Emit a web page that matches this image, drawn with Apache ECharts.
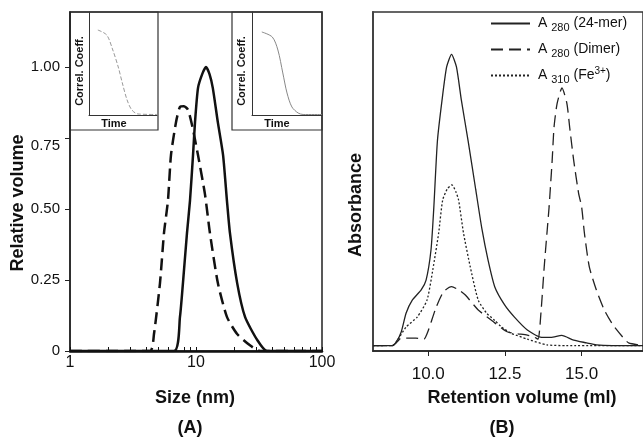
<!DOCTYPE html>
<html>
<head>
<meta charset="utf-8">
<script src="https://cdn.jsdelivr.net/npm/echarts@6/dist/echarts.min.js"></script>
<style>
  html, body { margin: 0; padding: 0; background: #fff; }
  #main { width: 643px; height: 439px; }
</style>
</head>
<body>
<div id="main"></div>
<script>
// Panel A - DLS size distributions (relative volume vs size, log axis)
const sizeA24 = [1, 6.69, 7.46, 7.88, 8.48, 8.96, 9.47, 9.82, 10.37, 11.2, 12.0, 12.8, 13.6, 14.9, 16.4, 17.6, 18.6, 21.2, 24.5, 30.5, 36.6, 100];
const volA24 = [0, 0, 0.12, 0.24, 0.415, 0.53, 0.69, 0.806, 0.926, 0.975, 1.0, 0.975, 0.926, 0.806, 0.69, 0.53, 0.415, 0.24, 0.12, 0.04, 0, 0];
const sizeADimer = [1, 4.31, 4.64, 5.18, 5.57, 5.99, 6.33, 6.94, 7.46, 8.03, 8.64, 9.3, 10.37, 11.8, 12.9, 14.9, 17.6, 21.2, 26.8, 32.2, 100];
const volADimer = [0, 0, 0.06, 0.24, 0.415, 0.53, 0.69, 0.806, 0.86, 0.862, 0.85, 0.796, 0.69, 0.55, 0.415, 0.24, 0.12, 0.06, 0.02, 0, 0];
const yTicksA = [0, 0.25, 0.5, 0.75, 1.0];
const xTicksA = [1, 2, 3, 4, 5, 6, 7, 8, 9, 10, 20, 30, 40, 50, 60, 70, 80, 90, 100];
const xLabelsA = [1, 10, 100];

// Panel A insets - correlation coefficient vs time
const timeInsetL = [0.13, 0.26, 0.35, 0.43, 0.49, 0.56, 0.63, 0.72, 1.0];
const corrInsetL = [0.825, 0.777, 0.631, 0.466, 0.311, 0.146, 0.049, 0.01, 0.005];
const timeInsetR = [0.14, 0.29, 0.37, 0.44, 0.5, 0.57, 0.66, 0.73, 1.0];
const corrInsetR = [0.806, 0.757, 0.631, 0.408, 0.214, 0.078, 0.019, 0.005, 0.005];

// Panel B - size exclusion chromatograms
const retB24 = [8.2, 8.83, 8.96, 9.12, 9.28, 9.48, 9.77, 9.93, 10.09, 10.18, 10.3, 10.45, 10.6, 10.76, 10.92, 11.08, 11.3, 11.55, 11.75, 11.95, 12.17, 12.49, 12.81, 13.23, 13.65, 14.0, 14.35, 14.74, 15.16, 15.48, 16.0, 17.0];
const absB24 = [0.016, 0.016, 0.027, 0.056, 0.112, 0.15, 0.18, 0.209, 0.298, 0.42, 0.62, 0.74, 0.838, 0.875, 0.838, 0.74, 0.62, 0.475, 0.36, 0.268, 0.189, 0.136, 0.1, 0.062, 0.041, 0.04, 0.046, 0.032, 0.024, 0.018, 0.016, 0.016];
const retBDimer = [8.2, 8.83, 8.99, 9.12, 9.38, 9.6, 9.86, 10.0, 10.25, 10.5, 10.76, 11.0, 11.21, 11.63, 12.17, 12.59, 13.23, 13.45, 13.58, 13.68, 13.78, 13.87, 13.94, 13.97, 14.04, 14.1, 14.2, 14.36, 14.52, 14.61, 14.74, 14.9, 15.0, 15.09, 15.25, 15.48, 15.74, 16.02, 16.34, 16.53, 17.0];
const absBDimer = [0.016, 0.016, 0.027, 0.038, 0.038, 0.038, 0.035, 0.06, 0.127, 0.175, 0.19, 0.18, 0.165, 0.121, 0.083, 0.056, 0.047, 0.041, 0.035, 0.12, 0.248, 0.348, 0.425, 0.466, 0.563, 0.66, 0.73, 0.776, 0.73, 0.66, 0.563, 0.466, 0.425, 0.348, 0.248, 0.18, 0.121, 0.077, 0.041, 0.024, 0.016];
const retBFe = [8.2, 8.83, 9.0, 9.28, 9.64, 9.96, 10.15, 10.34, 10.47, 10.62, 10.77, 10.9, 10.99, 11.15, 11.37, 11.63, 11.9, 12.17, 12.4, 12.69, 13.23, 13.87, 14.5, 17.0];
const absBFe = [0.016, 0.016, 0.032, 0.071, 0.10, 0.15, 0.24, 0.348, 0.445, 0.478, 0.49, 0.47, 0.445, 0.348, 0.248, 0.15, 0.112, 0.09, 0.07, 0.053, 0.035, 0.018, 0.016, 0.016];
const xTicksB = [10, 12.5, 15];

const seriesNames = ['A280 (24-mer)', 'A280 (Dimer)', 'A310 (Fe3+)'];
const legendText = {
  'A280 (24-mer)': '{n|A }{sub|280}{n| (24-mer)}',
  'A280 (Dimer)': '{n|A }{sub|280}{n| (Dimer)}',
  'A310 (Fe3+)': '{n|A }{sub|310}{n| (Fe}{sup|3+}{n|)}',
};

const FONT = '"Liberation Sans", Arial, Helvetica, sans-serif';
const INK = '#111';

function zip(xs, ys) {
  return xs.map((x, i) => [x, ys[i]]);
}

function plainAxis(gridIndex) {
  return {
    gridIndex: gridIndex,
    type: 'value',
    min: 0,
    max: 1,
    axisLine: { show: true, lineStyle: { color: '#333', width: 1 } },
    axisTick: { show: false },
    axisLabel: { show: false },
    splitLine: { show: false },
  };
}

function label(text, x, y, size, rot, weight) {
  return {
    type: 'text',
    x: x,
    y: y,
    rotation: rot || 0,
    silent: true,
    style: {
      text: text,
      fill: INK,
      font: (weight || 'bold') + ' ' + size + 'px ' + FONT,
      textAlign: 'center',
      textVerticalAlign: 'middle',
      align: 'center',
      verticalAlign: 'middle',
    },
  };
}

const chart = echarts.init(document.getElementById('main'));

chart.setOption({
  animation: false,
  backgroundColor: '#fff',
  textStyle: { fontFamily: FONT },
  grid: [
    // main panel A
    { left: 70, top: 12, width: 252, height: 339, show: true, borderColor: '#222', borderWidth: 1.5, backgroundColor: 'transparent' },
    // inset left
    { left: 89, top: 12, width: 68, height: 103 },
    // inset right
    { left: 252, top: 12, width: 70, height: 103 },
    // panel B
    { left: 373, top: 12, width: 274, height: 339, show: true, borderColor: '#333', borderWidth: 1.5, backgroundColor: 'transparent' },
  ],
  xAxis: [
    {
      gridIndex: 0,
      type: 'log',
      logBase: 10,
      min: 1,
      max: 100,
      axisLine: { show: true, lineStyle: { color: INK, width: 2.5 } },
      axisTick: { show: true, inside: true, length: 4, customValues: xTicksA, lineStyle: { color: INK } },
      axisLabel: { customValues: xLabelsA, fontSize: 16, color: INK, margin: 4 },
      splitLine: { show: false },
    },
    plainAxis(1),
    plainAxis(2),
    {
      gridIndex: 3,
      type: 'value',
      min: 8.2,
      max: 17.0,
      axisLine: { show: true, lineStyle: { color: '#222', width: 1.5 } },
      axisTick: { show: true, length: 5, customValues: xTicksB, lineStyle: { color: '#222' } },
      axisLabel: {
        customValues: xTicksB,
        fontSize: 17,
        color: INK,
        margin: 15,
        formatter: (v) => v.toFixed(1),
      },
      splitLine: { show: false },
    },
  ],
  yAxis: [
    {
      gridIndex: 0,
      type: 'value',
      min: 0,
      max: 1.194,
      axisLine: { show: true, lineStyle: { color: '#222', width: 1.5 } },
      axisTick: { show: true, length: 5, customValues: yTicksA, lineStyle: { color: '#222' } },
      axisLabel: {
        customValues: yTicksA,
        fontSize: 15,
        color: INK,
        margin: 10,
        formatter: (v) => (v === 0 ? '0' : v === 0.75 ? '{low|0.75}' : v.toFixed(2)),
        rich: { low: { fontSize: 15, color: INK, padding: [16, 0, 0, 0] } },
      },
      splitLine: { show: false },
    },
    plainAxis(1),
    plainAxis(2),
    {
      gridIndex: 3,
      type: 'value',
      min: 0,
      max: 1,
      axisLine: { show: true, lineStyle: { color: '#444', width: 2 } },
      axisTick: { show: false },
      axisLabel: { show: false },
      splitLine: { show: false },
    },
  ],
  legend: {
    data: seriesNames,
    orient: 'vertical',
    left: 490,
    top: 14,
    padding: 0,
    itemWidth: 39,
    itemHeight: 14,
    itemGap: 7,
    selectedMode: false,
    itemStyle: { opacity: 0 },
    formatter: (name) => legendText[name],
    textStyle: {
      color: INK,
      fontSize: 14,
      padding: [0, 0, 0, 3],
      rich: {
        n: { fontSize: 14, color: INK, lineHeight: 18 },
        sub: { fontSize: 11, color: INK, lineHeight: 10, padding: [8, 0, 0, 0] },
        sup: { fontSize: 10, color: INK, lineHeight: 10, padding: [0, 0, 8, 0] },
      },
    },
  },
  graphic: [
    // inset frames
    { type: 'rect', silent: true, shape: { x: 70, y: 12, width: 88, height: 118 }, style: { fill: 'none', stroke: '#333', lineWidth: 1.2 } },
    { type: 'rect', silent: true, shape: { x: 232, y: 12, width: 90, height: 118 }, style: { fill: 'none', stroke: '#333', lineWidth: 1.2 } },
    label('Correl. Coeff.', 80, 71, 11, Math.PI / 2),
    label('Correl. Coeff.', 242, 71, 11, Math.PI / 2),
    label('Time', 114, 124, 11),
    label('Time', 277, 124, 11),
    // axis titles
    label('Size (nm)', 195, 398, 18),
    label('(A)', 190, 428, 18),
    label('Relative volume', 18, 203, 18, Math.PI / 2),
    label('Retention volume (ml)', 522, 398, 18),
    label('(B)', 502, 428, 18),
    label('Absorbance', 356, 205, 18, Math.PI / 2),
  ],
  series: [
    {
      type: 'line',
      xAxisIndex: 0,
      yAxisIndex: 0,
      data: zip(sizeADimer, volADimer),
      symbol: 'none',
      smooth: 0.2,
      lineStyle: { color: INK, width: 2.5, type: [12, 6] },
    },
    {
      type: 'line',
      xAxisIndex: 0,
      yAxisIndex: 0,
      data: zip(sizeA24, volA24),
      symbol: 'none',
      smooth: 0.2,
      lineStyle: { color: INK, width: 2.5 },
    },
    {
      type: 'line',
      xAxisIndex: 1,
      yAxisIndex: 1,
      data: zip(timeInsetL, corrInsetL),
      symbol: 'none',
      smooth: 0.3,
      lineStyle: { color: '#999', width: 1, type: [4, 2] },
    },
    {
      type: 'line',
      xAxisIndex: 2,
      yAxisIndex: 2,
      data: zip(timeInsetR, corrInsetR),
      symbol: 'none',
      smooth: 0.3,
      lineStyle: { color: '#888', width: 1 },
    },
    {
      name: seriesNames[0],
      type: 'line',
      xAxisIndex: 3,
      yAxisIndex: 3,
      data: zip(retB24, absB24),
      symbol: 'none',
      smooth: 0.2,
      itemStyle: { color: '#222' },
      lineStyle: { color: '#222', width: 1.3 },
    },
    {
      name: seriesNames[1],
      type: 'line',
      xAxisIndex: 3,
      yAxisIndex: 3,
      data: zip(retBDimer, absBDimer),
      symbol: 'none',
      smooth: 0.2,
      itemStyle: { color: '#222' },
      lineStyle: { color: '#222', width: 1.3, type: [12, 6] },
    },
    {
      name: seriesNames[2],
      type: 'line',
      xAxisIndex: 3,
      yAxisIndex: 3,
      data: zip(retBFe, absBFe),
      symbol: 'none',
      smooth: 0.2,
      itemStyle: { color: '#222' },
      lineStyle: { color: '#222', width: 1.3, type: [2, 2] },
    },
  ],
});
</script>
</body>
</html>
